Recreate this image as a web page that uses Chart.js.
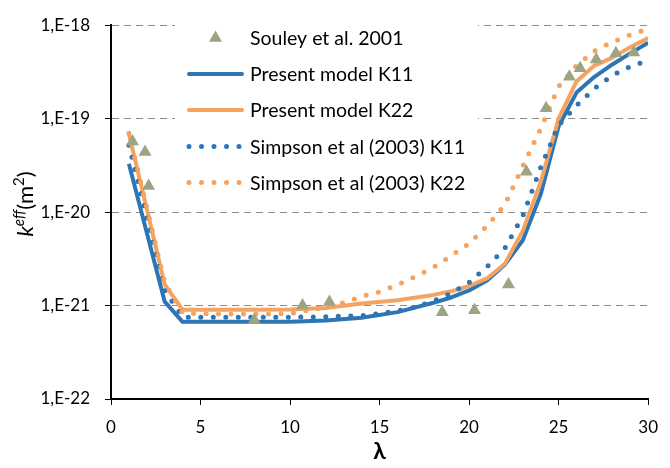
<!DOCTYPE html>
<html><head><meta charset="utf-8">
<script src="https://cdn.jsdelivr.net/npm/chart.js@4/dist/chart.umd.min.js"></script>
<style>html,body{margin:0;padding:0;background:#fff}#wrap{width:670px;height:468px;position:relative}</style>
</head><body><div id="wrap"><canvas id="c" width="670" height="468"></canvas></div>
<script>
// ---- data ----
const lambdaModel = [1, 3, 4, 6, 8, 10, 12, 14, 16, 18, 19, 20, 21, 22, 23, 24, 25, 26, 27, 28, 29, 30];
const k11Model = [3.3e-20, 1.1e-21, 6.7e-22, 6.7e-22, 6.7e-22, 6.7e-22, 6.9e-22, 7.4e-22, 8.5e-22, 1.07e-21, 1.22e-21, 1.45e-21, 1.85e-21, 2.75e-21, 5.0e-21, 1.55e-20, 8.3e-20, 1.9e-19, 2.8e-19, 3.8e-19, 5.0e-19, 6.5e-19];
const k22Model = [6.9e-20, 1.68e-21, 9.0e-22, 9.0e-22, 9.0e-22, 9.1e-22, 9.4e-22, 1.05e-21, 1.14e-21, 1.3e-21, 1.42e-21, 1.62e-21, 1.95e-21, 2.8e-21, 6.3e-21, 2.1e-20, 1.0e-19, 2.5e-19, 3.7e-19, 4.5e-19, 5.8e-19, 7.3e-19];

const lambdaSimpson = [1, 3, 4, 6, 8, 10, 12, 13, 14, 15, 16, 17, 18, 19, 20, 21, 22, 23, 24, 25, 26, 27, 28, 29, 30];
const k11Simpson = [5.2e-20, 1.45e-21, 7.5e-22, 7.5e-22, 7.5e-22, 7.5e-22, 7.6e-22, 7.7e-22, 7.8e-22, 8.2e-22, 8.8e-22, 9.6e-22, 1.12e-21, 1.35e-21, 1.76e-21, 2.6e-21, 4.1e-21, 9.1e-21, 3.0e-20, 8.5e-20, 1.38e-19, 2.1e-19, 2.9e-19, 3.6e-19, 4.2e-19];
const k22Simpson = [7.0e-20, 1.76e-21, 8.3e-22, 8.1e-22, 8.1e-22, 8.2e-22, 9.6e-22, 1.07e-21, 1.25e-21, 1.4e-21, 1.66e-21, 2.05e-21, 2.55e-21, 3.4e-21, 4.6e-21, 7.1e-21, 1.2e-20, 3.1e-20, 7.8e-20, 2.2e-19, 3.7e-19, 5.3e-19, 6.6e-19, 7.9e-19, 9.1e-19];

const souleyLambda = [1.2, 1.9, 2.1, 8.0, 10.7, 12.2, 18.5, 20.3, 22.2, 23.2, 24.3, 25.6, 26.2, 27.1, 28.2, 29.2];
const souleyK = [5.7e-20, 4.4e-20, 1.9e-20, 7.0e-22, 1.0e-21, 1.09e-21, 8.5e-22, 8.9e-22, 1.68e-21, 2.7e-20, 1.29e-19, 2.8e-19, 3.46e-19, 4.3e-19, 5.0e-19, 5.1e-19];

const yTickValues = [1e-22, 1e-21, 1e-20, 1e-19, 1e-18];
const yTickLabels = ['1,E-22', '1,E-21', '1,E-20', '1,E-19', '1,E-18'];
const xTickValues = [0, 5, 10, 15, 20, 25, 30];

const seriesNames = ['Souley et al. 2001', 'Present model K11', 'Present model K22', 'Simpson et al (2003) K11', 'Simpson et al (2003) K22'];
const BLUE = '#2E75B6', ORANGE = '#F4A460', OLIVE = '#9DA482';

const pts = (xs, ys) => xs.map((x, i) => ({x: x, y: ys[i]}));
const FONT = 'Lato, "Open Sans", sans-serif';

const decor = {
  id: 'decor',
  beforeDatasetsDraw(chart) {
    const ctx = chart.ctx;
    ctx.save();
    ctx.fillStyle = '#fff';
    ctx.fillRect(175, 22, 303, 178);
    ctx.restore();
  },
  afterDraw(chart) {
    const ctx = chart.ctx;
    ctx.save();
    // legend
    const rows = [38, 74, 110, 146.5, 182.5];
    const x0 = 188, x1 = 243, tx = 250;
    const kinds = [
      {t: 'tri', c: OLIVE},
      {t: 'solid', c: BLUE},
      {t: 'solid', c: ORANGE},
      {t: 'dot', c: BLUE},
      {t: 'dot', c: ORANGE}
    ];
    kinds.forEach((k, i) => {
      const y = rows[i];
      if (k.t === 'tri') {
        const r = 7.5, cx = (x0 + x1) / 2;
        ctx.fillStyle = k.c;
        ctx.beginPath();
        ctx.moveTo(cx, y - r);
        ctx.lineTo(cx + r * Math.sqrt(3) / 2, y + r / 2);
        ctx.lineTo(cx - r * Math.sqrt(3) / 2, y + r / 2);
        ctx.closePath();
        ctx.fill();
      } else {
        ctx.strokeStyle = k.c;
        ctx.lineCap = 'round';
        if (k.t === 'solid') { ctx.lineWidth = 4; ctx.setLineDash([]); }
        else { ctx.lineWidth = 5; ctx.setLineDash([0, 12.5]); }
        ctx.beginPath();
        ctx.moveTo(x0 + 1, y);
        ctx.lineTo(x1 - 1, y);
        ctx.stroke();
        ctx.setLineDash([]);
      }
      ctx.fillStyle = '#000';
      ctx.font = '19.5px ' + FONT;
      ctx.textBaseline = 'middle';
      ctx.textAlign = 'left';
      ctx.fillText(seriesNames[i], tx, y + 1);
    });
    // x title
    ctx.font = 'bold 23px ' + FONT;
    ctx.textAlign = 'center';
    ctx.textBaseline = 'middle';
    ctx.fillText('λ', (chart.chartArea.left + chart.chartArea.right) / 2, 452);
    // y title: k^eff (m^2)
    const parts = [
      {s: 'k', f: 'italic 22px ' + FONT, dy: 0},
      {s: 'eff', f: 'italic 15px ' + FONT, dy: -9},
      {s: '(m', f: '22px ' + FONT, dy: 0},
      {s: '2', f: '15px ' + FONT, dy: -9},
      {s: ')', f: '22px ' + FONT, dy: 0}
    ];
    ctx.translate(33, 204);
    ctx.rotate(-Math.PI / 2);
    let w = 0;
    parts.forEach(p => { ctx.font = p.f; w += ctx.measureText(p.s).width; });
    let cx = -w / 2;
    ctx.textAlign = 'left';
    ctx.textBaseline = 'alphabetic';
    parts.forEach(p => { ctx.font = p.f; ctx.fillText(p.s, cx, p.dy); cx += ctx.measureText(p.s).width; });
    ctx.restore();
  }
};

new Chart(document.getElementById('c'), {
  type: 'line',
  data: {
    datasets: [
      {label: seriesNames[0], data: pts(souleyLambda, souleyK), showLine: false, pointStyle: 'triangle', pointRadius: 7.5, pointBackgroundColor: OLIVE, pointBorderColor: OLIVE, pointBorderWidth: 0, order: 0},
      {label: seriesNames[1], data: pts(lambdaModel, k11Model), borderColor: BLUE, borderWidth: 4, pointRadius: 0, fill: false, tension: 0, borderJoinStyle: 'round', order: 4},
      {label: seriesNames[2], data: pts(lambdaModel, k22Model), borderColor: ORANGE, borderWidth: 4, pointRadius: 0, fill: false, tension: 0, borderJoinStyle: 'round', order: 3},
      {label: seriesNames[3], data: pts(lambdaSimpson, k11Simpson), borderColor: BLUE, borderWidth: 5, borderDash: [0, 12.5], borderCapStyle: 'round', pointRadius: 0, fill: false, tension: 0, order: 2},
      {label: seriesNames[4], data: pts(lambdaSimpson, k22Simpson), borderColor: ORANGE, borderWidth: 5, borderDash: [0, 12.5], borderCapStyle: 'round', pointRadius: 0, fill: false, tension: 0, order: 1}
    ]
  },
  options: {
    responsive: false,
    animation: false,
    devicePixelRatio: 1,
    layout: {padding: {top: 17, right: 13, left: 0, bottom: 0}},
    plugins: {legend: {display: false}, tooltip: {enabled: false}},
    scales: {
      x: {
        type: 'linear', min: 0, max: 30,
        afterBuildTicks: s => { s.ticks = xTickValues.map(v => ({value: v})); },
        afterFit: s => { s.height = 69; },
        border: {color: '#000', width: 2},
        grid: {drawOnChartArea: false, drawTicks: true, tickLength: 6, tickColor: '#000', tickWidth: 1},
        ticks: {color: '#000', font: {family: FONT, size: 17}, padding: 12, maxRotation: 0}
      },
      y: {
        type: 'logarithmic', min: 1e-22, max: 1e-18,
        afterBuildTicks: s => { s.ticks = yTickValues.map(v => ({value: v, major: true})); },
        afterFit: s => { s.width = 111; },
        border: {color: '#000', width: 2, dash: [7, 5]},
        grid: {
          color: c => (c.tick && c.tick.value <= 1e-22) ? 'rgba(0,0,0,0)' : '#8C8C8C',
          lineWidth: 1, drawTicks: true, tickLength: 6,
          tickColor: '#000', tickWidth: 1, tickBorderDash: [1, 0]
        },
        ticks: {color: '#000', font: {family: FONT, size: 17}, padding: 15,
          callback: (v, i) => yTickLabels[i]}
      }
    }
  },
  plugins: [decor]
});
</script></body></html>
